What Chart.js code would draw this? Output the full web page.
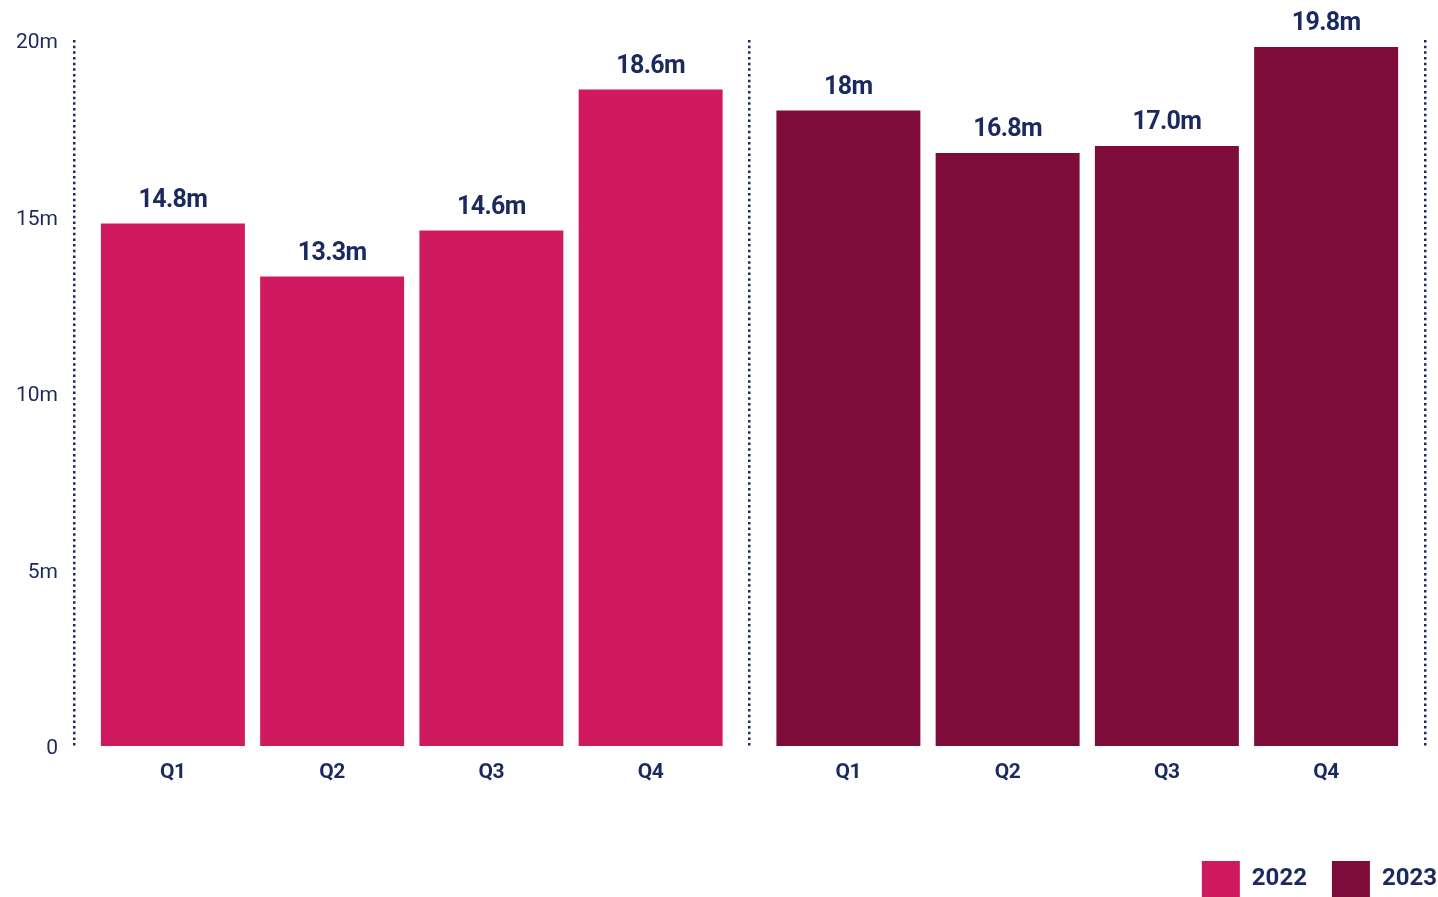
<!DOCTYPE html>
<html>
<head>
<meta charset="utf-8">
<script src="https://cdn.jsdelivr.net/npm/chart.js@4.4.1/dist/chart.umd.min.js"></script>
<style>
  html, body { margin: 0; padding: 0; background: #ffffff; }
  #wrap { width: 1438px; height: 897px; position: relative; }
</style>
</head>
<body>
<div id="wrap"><canvas id="c" width="1438" height="897"></canvas></div>
<script>
// ---- data ----
const years = ['2022', '2023'];
const quarters = ['Q1', 'Q2', 'Q3', 'Q4'];
const values2022 = [14.8, 13.3, 14.6, 18.6];
const values2023 = [18.0, 16.8, 17.0, 19.8];
const labels2022 = ['14.8m', '13.3m', '14.6m', '18.6m'];
const labels2023 = ['18m', '16.8m', '17.0m', '19.8m'];
const yTicks = [0, 5, 10, 15, 20];

// ---- styles ----
const NAVY = '#1b2a5e';
const yearColors = ['#d01a5f', '#7d0c3b'];
const FONT = 'Roboto, "Liberation Sans", sans-serif';

const datasets = quarters.map((q, i) => ({
  label: q,
  data: [values2022[i], values2023[i]],
  valueLabels: [labels2022[i], labels2023[i]],
  backgroundColor: yearColors,
  borderWidth: 0,
  barPercentage: 0.904,
  categoryPercentage: 0.943
}));

const barLabelPlugin = {
  id: 'barLabels',
  afterLayout(chart) {
    // push the legend to the right edge of the canvas
    if (chart.legend) { chart.legend.left += 37; chart.legend.right += 37; }
  },
  afterDatasetsDraw(chart) {
    const ctx = chart.ctx;
    ctx.save();
    ctx.fillStyle = NAVY;
    ctx.textAlign = 'center';
    ctx.textBaseline = 'middle';
    chart.data.datasets.forEach((ds, di) => {
      const meta = chart.getDatasetMeta(di);
      meta.data.forEach((bar, j) => {
        ctx.font = 'bold 25px ' + FONT;
        ctx.letterSpacing = '-0.6px';
        ctx.fillText(ds.valueLabels[j], bar.x, bar.y - 23);
        ctx.font = 'bold 21px ' + FONT;
        ctx.letterSpacing = '-0.3px';
        ctx.fillText(ds.label, bar.x, chart.chartArea.bottom + 27);
      });
    });
    ctx.restore();
  }
};

new Chart(document.getElementById('c'), {
  type: 'bar',
  data: { labels: years, datasets },
  plugins: [barLabelPlugin],
  options: {
    responsive: false,
    animation: false,
    layout: { padding: { top: 40, left: 0, right: 13, bottom: -10 } },
    plugins: {
      tooltip: { enabled: false },
      legend: {
        position: 'bottom',
        align: 'end',
        labels: {
          boxWidth: 38,
          boxHeight: 36,
          padding: 25,
          color: NAVY,
          font: { family: FONT, size: 24, weight: 'bold' },
          generateLabels: () => years.map((y, i) => ({
            text: y,
            fillStyle: yearColors[i],
            strokeStyle: yearColors[i],
            lineWidth: 0,
            fontColor: NAVY,
            hidden: false,
            datasetIndex: i
          }))
        },
        onClick: () => {}
      }
    },
    scales: {
      x: {
        ticks: { display: false },
        border: { display: false, dash: [2.5, 3.17] },
        grid: {
          display: true,
          offset: true,
          drawTicks: false,
          color: NAVY,
          lineWidth: 2.5
        },
        afterFit: (scale) => { scale.height = 90; }
      },
      y: {
        min: 0,
        max: 20,
        afterBuildTicks: (scale) => { scale.ticks = yTicks.map(v => ({ value: v })); },
        border: { display: false },
        grid: { display: false, drawTicks: false },
        ticks: {
          padding: 16,
          labelOffset: 3,
          color: NAVY,
          font: { family: FONT, size: 21 },
          callback: (v) => v === 0 ? '0' : v + 'm'
        }
      }
    }
  }
});
</script>
</body>
</html>
